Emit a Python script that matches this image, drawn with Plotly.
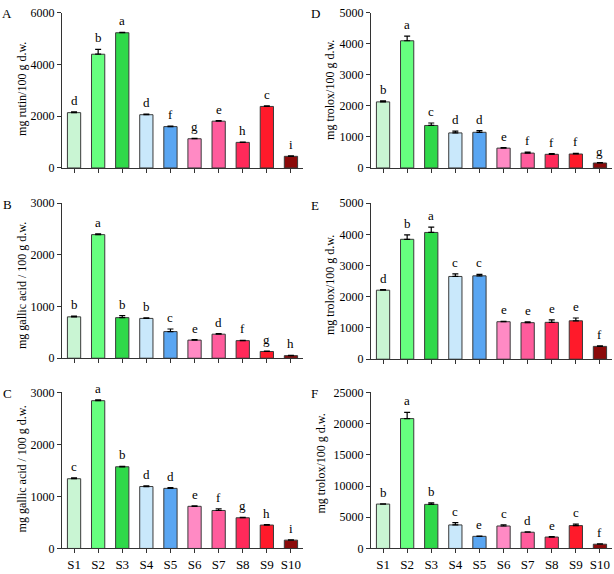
import plotly.graph_objects as go

samples = ["S1", "S2", "S3", "S4", "S5", "S6", "S7", "S8", "S9", "S10"]
colors = ["#c9f5d3", "#66ff7f", "#2fd94a", "#c9e8fb", "#5aa6f2",
          "#ff8ac4", "#ff5c9c", "#ff2a5a", "#ff1a2a", "#8b0a0a"]

# Panel A
a_vals = [2140, 4400, 5230, 2060, 1600, 1130, 1810, 990, 2380, 450]
a_err = [30, 190, 20, 20, 20, 15, 20, 15, 20, 15]
a_let = ["d", "b", "a", "d", "f", "g", "e", "h", "c", "i"]
# Panel B
b_vals = [800, 2390, 785, 770, 515, 350, 465, 340, 130, 50]
b_err = [15, 15, 40, 10, 50, 10, 10, 8, 8, 5]
b_let = ["b", "a", "b", "b", "c", "e", "d", "f", "g", "h"]
# Panel C
c_vals = [1340, 2840, 1570, 1190, 1155, 810, 730, 590, 450, 160]
c_err = [15, 15, 10, 12, 15, 10, 30, 10, 10, 8]
c_let = ["c", "a", "b", "d", "d", "e", "f", "g", "h", "i"]
# Panel D
d_vals = [2130, 4100, 1370, 1130, 1150, 640, 480, 440, 450, 160]
d_err = [30, 150, 80, 60, 55, 15, 30, 20, 20, 10]
d_let = ["b", "a", "c", "d", "d", "e", "f", "f", "f", "g"]
# Panel E
e_vals = [2210, 3840, 4060, 2650, 2670, 1200, 1170, 1180, 1230, 410]
e_err = [20, 140, 170, 80, 50, 10, 30, 80, 90, 15]
e_let = ["d", "b", "a", "c", "c", "e", "e", "e", "e", "f"]
# Panel F
f_vals = [7110, 20800, 7060, 3770, 1940, 3600, 2600, 1830, 3660, 680]
f_err = [50, 1000, 250, 380, 60, 200, 80, 60, 250, 40]
f_let = ["b", "a", "b", "c", "e", "c", "d", "e", "c", "f"]

panels = [
    ("A", a_vals, a_err, a_let, "mg rutin/100 g d.w.", 6000, 2000),
    ("B", b_vals, b_err, b_let, "mg gallic acid / 100 g d.w.", 3000, 1000),
    ("C", c_vals, c_err, c_let, "mg gallic acid / 100 g d.w.", 3000, 1000),
    ("D", d_vals, d_err, d_let, "mg trolox/100 g d.w.", 5000, 1000),
    ("E", e_vals, e_err, e_let, "mg trolox/100 g d.w.", 5000, 1000),
    ("F", f_vals, f_err, f_let, "mg trolox/100 g d.w.", 25000, 5000),
]

W, H = 614, 574
# pixel geometry: (x_left, x_right), (y_top, y_zero)
xpix = [(62, 303), (62, 303), (62, 303), (371, 612), (371, 612), (371, 612)]
ypix = [(6, 165), (201, 360), (395, 555), (6, 165), (201, 361), (395, 555)]
lab_pos = [(7, 7), (7, 202), (7, 396), (315, 7), (315, 203), (314, 396)]
title_pos = [(22, 84), (22, 286), (22, 474), (330, 85), (330, 285), (321, 468)]

FONT = "Liberation Serif"
fig = go.Figure()
annotations = []
layout = {}
for i, (name, vals, err, lets, title, ymax, dtick) in enumerate(panels):
    n = i + 1
    xa = "x" if n == 1 else f"x{n}"
    ya = "y" if n == 1 else f"y{n}"
    fig.add_trace(go.Bar(
        x=samples, y=vals, xaxis=xa, yaxis=ya,
        marker=dict(color=colors, line=dict(color="#3a3a3a", width=1)),
        width=0.55,
        error_y=dict(type="data", array=err, arrayminus=[0] * len(err),
                     symmetric=False, color="black", thickness=1.2, width=3),
        showlegend=False,
    ))
    for s, v, e, l in zip(samples, vals, err, lets):
        annotations.append(dict(x=s, y=v + e, xref=xa, yref=ya, text=l,
                                showarrow=False, yanchor="bottom", yshift=2,
                                font=dict(family=FONT, size=13, color="black")))
    x0, x1 = xpix[i]
    yt, yz = ypix[i]
    layout["xaxis" if n == 1 else f"xaxis{n}"] = dict(
        domain=[x0 / W, x1 / W], anchor=ya, showline=True, linecolor="#333",
        linewidth=1, ticks="outside", ticklen=4, tickcolor="#333",
        showticklabels=(name in ("C", "F")), showgrid=False, zeroline=False,
        tickfont=dict(family=FONT, size=13, color="black"))
    layout["yaxis" if n == 1 else f"yaxis{n}"] = dict(
        domain=[(H - yz) / H, (H - yt) / H], anchor=xa, range=[0, ymax],
        dtick=dtick, tickformat="d", showline=True, linecolor="#333",
        linewidth=1, ticks="outside", ticklen=4, tickcolor="#333",
        showgrid=False, zeroline=False,
        tickfont=dict(family=FONT, size=12, color="black"))
    tx, ty = title_pos[i]
    annotations.append(dict(x=tx / W, y=1 - ty / H, xref="paper", yref="paper",
                            text=title, showarrow=False, textangle=-90,
                            xanchor="center", yanchor="middle",
                            font=dict(family=FONT, size=12, color="black")))
    lx, ly = lab_pos[i]
    annotations.append(dict(x=lx / W, y=1 - ly / H, xref="paper", yref="paper",
                            text=name, showarrow=False, xanchor="center",
                            yanchor="middle",
                            font=dict(family=FONT, size=13, color="black")))

fig.update_layout(width=W, height=H, margin=dict(l=0, r=0, t=0, b=0),
                  plot_bgcolor="white", paper_bgcolor="white",
                  annotations=annotations, **layout)
fig.write_html("out.html", config={"displayModeBar": False},
               post_script="document.body.style.margin='0px';"
                           "document.body.style.overflow='hidden';")
